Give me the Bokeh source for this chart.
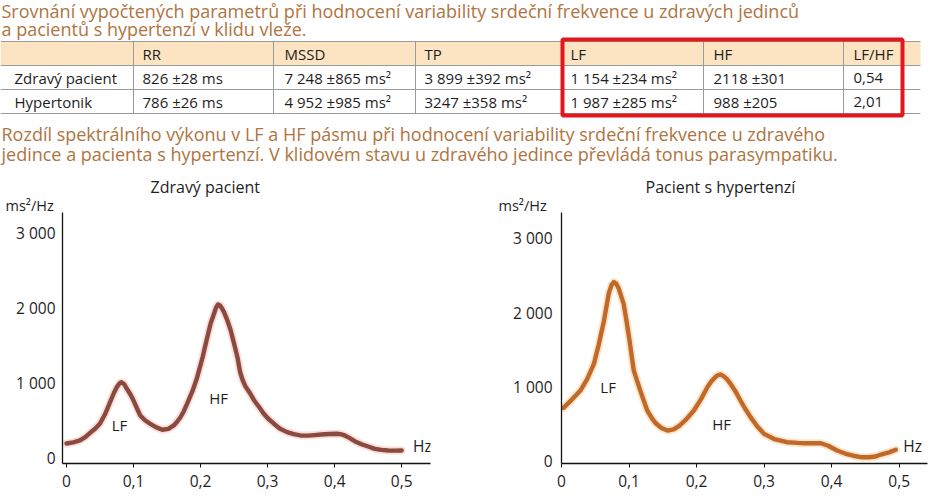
from bokeh.plotting import figure
from bokeh.layouts import column, row
from bokeh.models import Range1d, FixedTicker, CustomJSTickFormatter, Label, Title
from bokeh.core.properties import value
from bokeh.embed import file_html
from bokeh.resources import INLINE

FONT = "Open Sans"

# ---------------- data ----------------
heading1 = ["Srovnání vypočtených parametrů při hodnocení variability srdeční frekvence  u zdravých jedinců",
            "a pacientů s hypertenzí v klidu vleže."]
heading2 = ["Rozdíl spektrálního výkonu v LF a HF pásmu při hodnocení variability srdeční frekvence u zdravého",
            "jedince a  pacienta s hypertenzí. V klidovém stavu u zdravého jedince převládá tonus parasympatiku."]

table_columns = ["", "RR", "MSSD", "TP", "LF", "HF", "LF/HF"]
row_healthy = ["Zdravý pacient", "826 ±28 ms", "7 248 ±865 ms²", "3 899 ±392 ms²", "1 154 ±234 ms²", "2118 ±301", "0,54"]
row_hyper = ["Hypertonik", "786 ±26 ms", "4 952 ±985 ms²", "3247 ±358 ms²", "1 987 ±285 ms²", "988 ±205", "2,01"]

healthy_hz = [0.0, 0.01, 0.02, 0.028, 0.036, 0.043, 0.05, 0.058, 0.066, 0.071, 0.075, 0.079, 0.082,
              0.086, 0.09, 0.095, 0.1, 0.105, 0.11, 0.117, 0.125, 0.134, 0.143, 0.152, 0.16, 0.165, 0.17,
              0.175, 0.18, 0.188, 0.195, 0.203, 0.21, 0.215, 0.22, 0.223, 0.226, 0.229, 0.232, 0.235,
              0.24, 0.245, 0.25, 0.255, 0.259, 0.263, 0.267, 0.273, 0.28, 0.287, 0.294, 0.301, 0.309,
              0.318, 0.329, 0.339, 0.349, 0.36, 0.37, 0.38, 0.392, 0.404, 0.41, 0.415, 0.422, 0.43,
              0.44, 0.45, 0.46, 0.47, 0.48, 0.49, 0.5]
healthy_psd = [200, 215, 240, 285, 347, 400, 467, 600, 773, 880, 951, 1000, 1017,
               990, 929, 860, 773, 670, 573, 510, 462, 415, 383, 395, 440, 490, 550,
               630, 733, 900, 1084, 1350, 1617, 1800, 1929, 2010, 2053, 2040, 2000, 1951,
               1840, 1707, 1530, 1351, 1150, 1040, 960, 880, 773, 690, 600, 530, 467,
               400, 351, 325, 307, 305, 312, 320, 327, 330, 322, 307, 275, 231,
               190, 160, 129, 115, 107, 105, 107]

hyper_hz = [0.003, 0.015, 0.028, 0.038, 0.048, 0.055, 0.063, 0.07, 0.074, 0.0775, 0.081, 0.085,
            0.088, 0.092, 0.096, 0.1, 0.107, 0.115, 0.121, 0.127, 0.134, 0.14, 0.148, 0.157, 0.166,
            0.175, 0.185, 0.196, 0.206, 0.216, 0.222, 0.228, 0.232, 0.236, 0.24, 0.245, 0.25, 0.258,
            0.265, 0.272, 0.28, 0.29, 0.3, 0.315, 0.334, 0.35, 0.36, 0.372, 0.384, 0.395, 0.408,
            0.42, 0.432, 0.443, 0.455, 0.465, 0.473, 0.485, 0.495]
hyper_psd = [712, 820, 946, 1100, 1306, 1560, 1892, 2257, 2370, 2410, 2390, 2320,
             2230, 2117, 1900, 1667, 1216, 991, 830, 676, 570, 500, 440, 405, 420,
             473, 560, 676, 820, 990, 1070, 1130, 1155, 1162, 1140, 1100, 1040, 930,
             811, 700, 586, 460, 360, 290, 248, 238, 234, 234, 234, 200, 135,
             95, 65, 45, 45, 55, 81, 110, 145]

x_ticks = [0, 0.1, 0.2, 0.3, 0.4, 0.5]
y_ticks = [0, 1000, 2000, 3000]

HEAD_COLOR = "#B07440"
TEXT_COLOR = "#1e1e1e"

# ---------------- header + table ----------------
top = figure(width=930, height=170, x_range=Range1d(0, 930), y_range=Range1d(170, 0),
             output_backend="svg", toolbar_location=None, min_border=0)
top.axis.visible = False
top.grid.visible = False
top.outline_line_color = None

top.text(x=[1, 1], y=[10.5, 28], text=heading1, text_font=value(FONT), text_font_size="18px",
         text_color=HEAD_COLOR, text_baseline="middle")
top.text(x=[1, 1], y=[133, 153], text=heading2, text_font=value(FONT), text_font_size="18px",
         text_color=HEAD_COLOR, text_baseline="middle")

col_edges = [0, 133, 273, 415, 562, 703, 843, 920]
row_edges = [41, 65, 89, 113]

top.quad(left=[col_edges[0]], right=[col_edges[-1]], top=[row_edges[0]], bottom=[row_edges[1]],
         fill_color="#FCE4C3", line_color=None)
top.segment(x0=[col_edges[0]] * 4, x1=[col_edges[-1]] * 4, y0=row_edges, y1=row_edges,
            line_color="#9a9a9a", line_width=1)
inner = col_edges[1:-1]
top.segment(x0=inner, x1=inner, y0=[row_edges[0]] * len(inner), y1=[row_edges[-1]] * len(inner),
            line_color="#9a9a9a", line_width=1)

pads = [14, 9, 11, 9, 8, 10, 10]
for r_i, cells in enumerate([table_columns, row_healthy, row_hyper]):
    yc = (row_edges[r_i] + row_edges[r_i + 1]) / 2
    xs = [col_edges[i] + pads[i] for i in range(len(cells))]
    top.text(x=xs, y=[yc] * len(cells), text=cells, text_font=value(FONT), text_font_size="15px",
             text_color=TEXT_COLOR, text_baseline="middle")

top.quad(left=[562], right=[902], top=[39], bottom=[115], fill_color=None,
         line_color="#E3161C", line_width=4)


# ---------------- charts ----------------
def make_chart(xs, ys, color, halo, xr, yr, bl, br, ystand, title, title_off, unit_off, hz_xy, lf_xy, hf_xy):
    p = figure(width=465, height=328, x_range=Range1d(*xr), y_range=Range1d(*yr),
               output_backend="svg", toolbar_location=None, title=None,
               min_border_left=bl, min_border_right=br, min_border_top=42, min_border_bottom=35)
    p.grid.visible = False
    p.outline_line_color = None
    p.line(xs, ys, line_color=halo, line_width=8, line_alpha=0.7, line_join="round", line_cap="round")
    p.line(xs, ys, line_color=color, line_width=4.4, line_join="round", line_cap="round")

    p.xaxis.ticker = FixedTicker(ticks=x_ticks)
    p.yaxis.ticker = FixedTicker(ticks=y_ticks)
    p.xaxis.formatter = CustomJSTickFormatter(code='return tick == 0 ? "0" : tick.toFixed(1).replace(".", ",");')
    p.yaxis.formatter = CustomJSTickFormatter(code='return tick == 0 ? "0" : (tick/1000).toFixed(0) + " 000";')
    for ax in (p.xaxis, p.yaxis):
        ax.axis_line_color = "#111111"
        ax.axis_line_width = 1.3
        ax.major_label_text_font = FONT
        ax.major_label_text_font_size = "15.5px"
        ax.major_label_text_color = TEXT_COLOR
        ax.minor_tick_out = 0
        ax.minor_tick_in = 0
    p.xaxis.major_tick_out = 4
    p.xaxis.major_tick_in = 0
    p.xaxis.major_tick_line_color = "#111111"
    p.xaxis.major_label_standoff = 7
    p.yaxis.major_tick_out = 0
    p.yaxis.major_tick_in = 0
    p.yaxis.major_label_standoff = ystand

    # titles stacked above the frame: first added sits closest to the frame
    p.add_layout(Title(text="ms²/Hz", align="left", offset=unit_off, standoff=-5, text_font=FONT,
                       text_font_size="14.5px", text_font_style="normal", text_color=TEXT_COLOR), "above")
    p.add_layout(Title(text=title, align="left", offset=title_off, standoff=-3, text_font=FONT,
                       text_font_size="16px", text_font_style="normal", text_color=TEXT_COLOR), "above")

    def lab(xy, text, size="15px"):
        p.add_layout(Label(x=xy[0], y=xy[1], text=text, text_font=FONT, text_font_size=size,
                           text_color=TEXT_COLOR, text_align="center", text_baseline="middle"))
    lab(hz_xy, "Hz", "15.5px")
    lab(lf_xy, "LF")
    lab(hf_xy, "HF")
    return p


left = make_chart(healthy_hz, healthy_psd, "#8A4A42", "#F6D2C8", (-0.006, 0.543), (-67, 3280),
                  62, 35, 7, "Zdravý pacient", 88, -57, (0.531, 160),
                  (0.079, 440), (0.227, 813))
right = make_chart(hyper_hz, hyper_psd, "#BF6A2A", "#FBD9B2", (0.0, 0.542), (-40, 3351),
                   96, 3, 9, "Pacient s hypertenzí", 84, -63, (0.52, 203),
                   (0.069, 990), (0.237, 500))

layout = column(top, row(left, right, spacing=0), spacing=0)
open("out.html", "w").write(file_html(layout, INLINE))
